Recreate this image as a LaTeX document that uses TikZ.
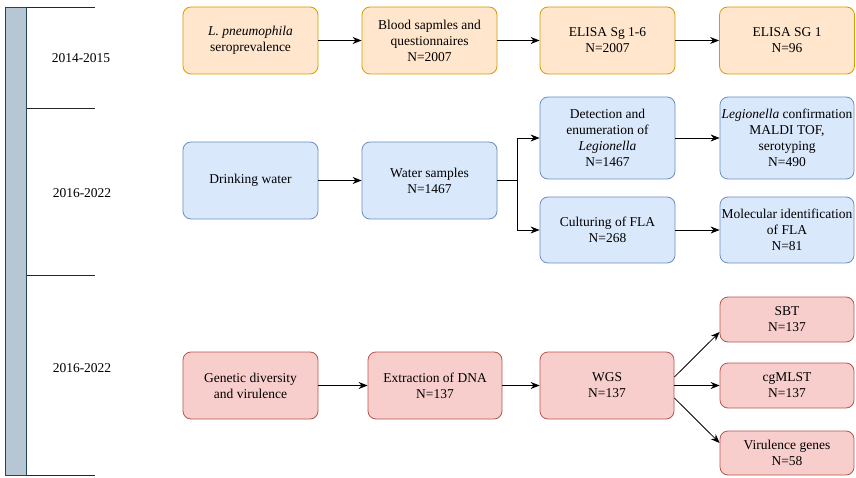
\documentclass[tikz,border=0pt]{standalone}
\usepackage{fontspec}
\setmainfont{Liberation Serif}[Ligatures=TeX]
\newfontfamily\timesfont{Liberation Serif}
\usetikzlibrary{arrows.meta,positioning}

\definecolor{orfill}{HTML}{FFE6CC}
\definecolor{ordraw}{HTML}{D79B00}
\definecolor{blfill}{HTML}{DAE8FC}
\definecolor{bldraw}{HTML}{6C8EBF}
\definecolor{rdfill}{HTML}{F8CECC}
\definecolor{rddraw}{HTML}{B85450}
\definecolor{barfill}{HTML}{B6C6D2}
\definecolor{bardraw}{HTML}{23445D}

\begin{document}
\begin{tikzpicture}[
    x=1pt, y=-1pt,
    font=\timesfont\fontsize{13.5}{16}\selectfont,
    box/.style={rectangle, rounded corners=8pt, draw, line width=0.8pt, align=center, inner sep=2pt, minimum width=135pt},
    serobox/.style={box, fill=orfill, draw=ordraw, minimum height=67pt},
    waterbox/.style={box, fill=blfill, draw=bldraw},
    genebox/.style={box, fill=rdfill, draw=rddraw},
    arrow/.style={-{Stealth[length=9pt,width=7pt]}, line width=0.8pt},
    tick/.style={line width=0.8pt, black!85}
]
    \useasboundingbox (0,0) rectangle (856,478);

    % time line
    \node[draw=bardraw, fill=barfill, line width=0.8pt, minimum width=21pt, minimum height=468pt, inner sep=0pt] (bar) at (16,241) {};
    \foreach \y in {7,108,275,475}
        \draw[tick] (bar.east |- 0,\y) -- (95,\y);
    \node (p1) at (81,58) {2014-2015};
    \node (p2) at (82,193) {2016-2022};
    \node (p3) at (82,368) {2016-2022};

    % seroprevalence
    \node[serobox] (sero) at (250.5,40.5) {\textit{L. pneumophila}\\seroprevalence};
    \node[serobox] (blood) at (429.5,40.5) {Blood sapmles and\\questionnaires\\N=2007};
    \node[serobox] (elisa16) at (607.5,40.5) {ELISA Sg 1-6\\N=2007};
    \node[serobox] (elisa1) at (787,40.5) {ELISA SG 1\\N=96};

    \draw[arrow] (sero) -- (blood);
    \draw[arrow] (blood) -- (elisa16);
    \draw[arrow] (elisa16) -- (elisa1);

    % drinking water
    \node[waterbox, minimum height=77pt] (drink) at (250.5,180.5) {Drinking water};
    \node[waterbox, minimum height=77pt] (samples) at (429.5,180.5) {Water samples\\N=1467};
    \node[waterbox, minimum height=82pt] (detect) at (607.5,138) {Detection and\\enumeration of\\\textit{Legionella}\\N=1467};
    \node[waterbox, minimum height=66pt] (fla) at (607.5,230) {Culturing of FLA\\N=268};
    \node[waterbox, minimum height=82pt, minimum width=134pt, inner sep=1pt] (confirm) at (787,138) {\textit{Legionella} confirmation\\MALDI TOF,\\serotyping\\N=490};
    \node[waterbox, minimum height=66pt, minimum width=134pt, inner sep=1pt] (molid) at (787,230) {Molecular identification\\of FLA\\N=81};
    \coordinate (split) at (517,180.5);

    \draw[arrow] (drink) -- (samples);
    \draw[line width=0.8pt] (samples) -- (split);
    \draw[arrow] (split) |- (detect);
    \draw[arrow] (split) |- (fla);
    \draw[arrow] (detect) -- (confirm);
    \draw[arrow] (fla) -- (molid);

    % genetic diversity
    \node[genebox, minimum height=67pt] (genetic) at (250.5,385.5) {Genetic diversity\\and virulence};
    \node[genebox, minimum height=67pt, minimum width=134pt] (dna) at (435,385.5) {Extraction of DNA\\N=137};
    \node[genebox, minimum height=67pt, minimum width=134pt] (wgs) at (607,385.5) {WGS\\N=137};
    \node[genebox, minimum height=45pt, minimum width=134pt] (sbt) at (787,319.5) {SBT\\N=137};
    \node[genebox, minimum height=45pt, minimum width=134pt] (cgmlst) at (787,385.5) {cgMLST\\N=137};
    \node[genebox, minimum height=44pt, minimum width=134pt] (virul) at (787,453) {Virulence genes\\N=58};

    \draw[arrow] (genetic) -- (dna);
    \draw[arrow] (dna) -- (wgs);
    \draw[arrow] (wgs.east |- 0,377) -- (sbt.west |- 0,332);
    \draw[arrow] (wgs) -- (cgmlst);
    \draw[arrow] (wgs.east |- 0,398) -- (virul.west |- 0,443);
\end{tikzpicture}
\end{document}
